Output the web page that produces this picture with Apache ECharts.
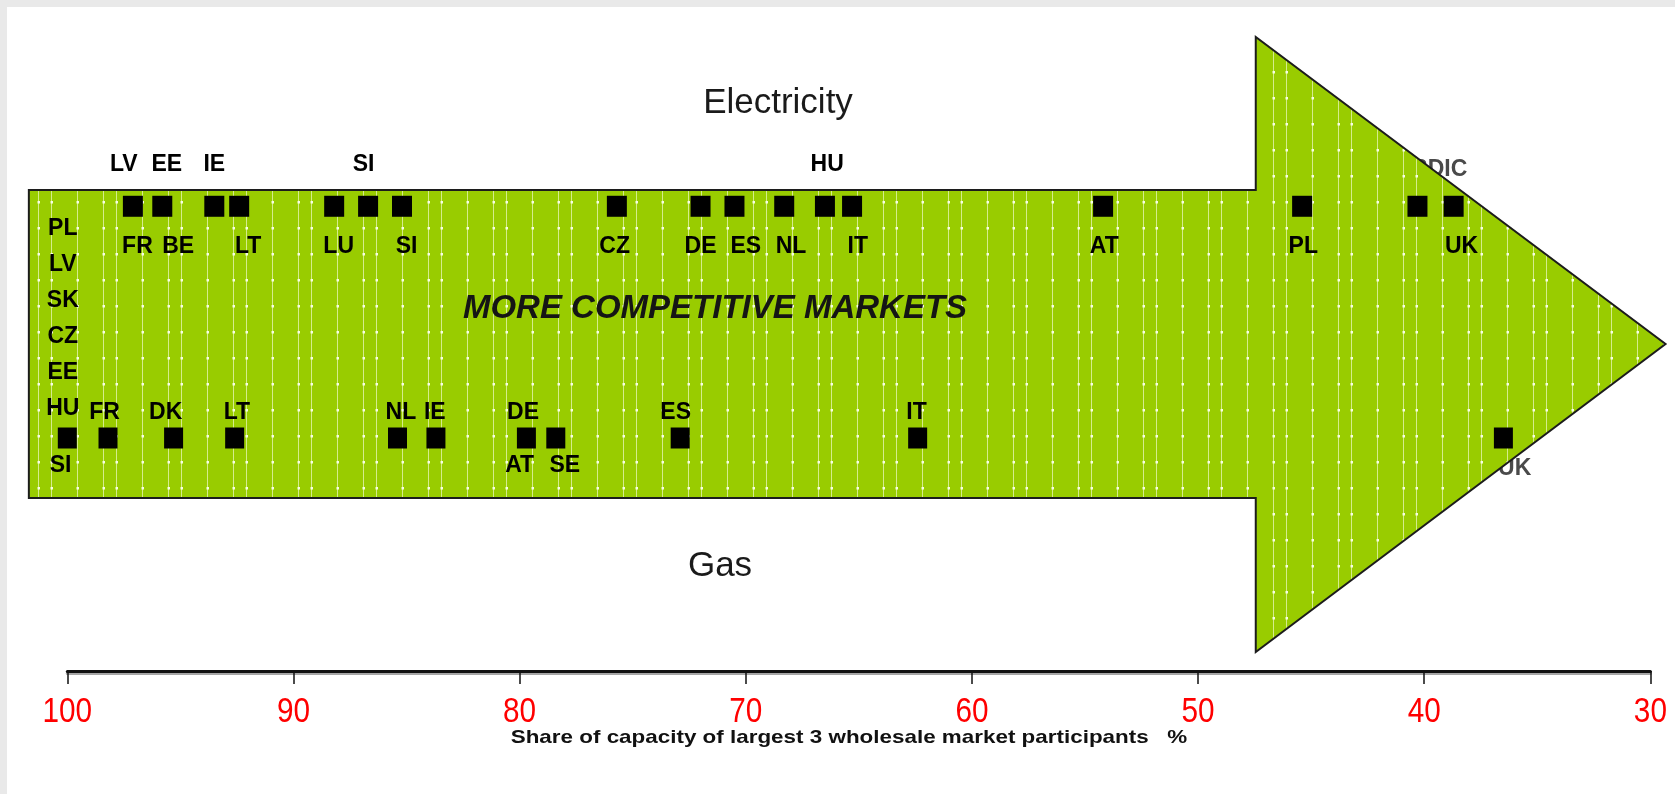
<!DOCTYPE html>
<html>
<head>
<meta charset="UTF-8">
<title>Electricity and gas market concentration</title>
<script src="https://cdn.jsdelivr.net/npm/echarts@6/dist/echarts.min.js"></script>
<style>
  html, body { margin: 0; padding: 0; background: #e9e9e9; }
  #main { position: absolute; left: 7px; top: 7px; width: 1668px; height: 787px; background: #fff; }
</style>
</head>
<body>
<div id="main"></div>
<script type="text/javascript">
// share of capacity of largest 3 wholesale participants (%)
var elecMarkers = [97.1, 95.8, 93.5, 92.4, 88.2, 86.7, 85.2, 75.7, 72.0, 70.5, 68.3, 66.5, 65.3, 54.2, 45.4, 40.3, 38.7];
var gasMarkers  = [100, 98.2, 95.3, 92.6, 85.4, 83.7, 79.7, 78.4, 72.9, 62.4, 36.5];

// labels and where they sit along the axis
var elecTopNames = ['LV', 'EE', 'IE', 'SI', 'HU'];
var elecTopAt    = [97.5, 95.6, 93.5, 86.9, 66.4];
var elecBottomNames = ['FR', 'BE', 'LT', 'LU', 'SI', 'CZ', 'DE', 'ES', 'NL', 'IT', 'AT', 'PL', 'UK'];
var elecBottomAt    = [96.9, 95.1, 92.0, 88.0, 85.0, 75.8, 72.0, 70.0, 68.0, 65.05, 54.15, 45.35, 38.35];
var elecHiddenNames = ['NORDIC'];
var elecHiddenAt    = [40.1];

var gasTopNames = ['FR', 'DK', 'LT', 'NL', 'IE', 'DE', 'ES', 'IT'];
var gasTopAt    = [98.35, 95.65, 92.5, 85.25, 83.75, 79.85, 73.1, 62.45];
var gasBottomNames = ['SI', 'AT', 'SE'];
var gasBottomAt    = [100.3, 80.0, 78.0];
var gasStackNames  = ['PL', 'LV', 'SK', 'CZ', 'EE', 'HU']; // all at 100
var gasStackAt     = 100.2;
var gasHiddenNames = ['UK'];
var gasHiddenAt    = [36.0];

var xTicks = [100, 90, 80, 70, 60, 50, 40, 30];

// rows on the hidden y scale (0..100)
var ELEC_Y = 73.3, GAS_Y = 36.75;
var LABEL_FONT = '"Liberation Sans", Arial, sans-serif';

// texture of the arrow: faint vertical lines with bright dots
var pc = document.createElement('canvas');
pc.width = 65; pc.height = 26;
var pctx = pc.getContext('2d');
pctx.fillStyle = '#99cc00';
pctx.fillRect(0, 0, 65, 26);
[5.5, 31.5, 44.5].forEach(function (x) {
    pctx.fillStyle = 'rgba(228,244,175,0.8)';
    pctx.fillRect(x - 0.5, 0, 1, 26);
    pctx.fillStyle = 'rgba(250,255,235,0.95)';
    pctx.fillRect(x - 1, 12, 2.5, 2.5);
});

// arrow outline in axis units
var arrowShape = [[101.7, 75.87], [47.45, 75.87], [47.45, 100], [29.33, 51.58],
                  [47.45, 3.0], [47.45, 27.29], [101.7, 27.29]];

function labelSeries(names, at, rowY, dy, color, z) {
    return {
        type: 'scatter',
        z: z,
        clip: false,
        symbolSize: 1,
        itemStyle: { color: 'rgba(0,0,0,0)', opacity: 1 },
        silent: true,
        data: names.map(function (n, i) { return { name: n, value: [at[i], rowY] }; }),
        label: {
            show: true,
            position: 'inside',
            offset: [0, dy],
            formatter: '{b}',
            fontFamily: LABEL_FONT,
            fontWeight: 'bold',
            fontSize: 23,
            color: color
        }
    };
}

var myChart = echarts.init(document.getElementById('main'));

var stackSeries = labelSeries(gasStackNames, gasStackNames.map(function () { return gasStackAt; }), GAS_Y, 0, '#000', 5);
stackSeries.data.forEach(function (d, i) {
    d.label = { offset: [0, -29 - (gasStackNames.length - 1 - i) * 36] };
});

var option = {
    animation: false,
    grid: { left: 60.3, right: 24.6, top: 30, bottom: 123 },
    xAxis: {
        type: 'value',
        inverse: true,
        min: 30,
        max: 100,
        interval: 10,
        splitLine: { show: false },
        axisLine: { show: true, lineStyle: { color: '#111', width: 3, shadowColor: 'rgba(0,0,0,0.35)', shadowOffsetY: 2 } },
        axisTick: { show: true, length: 13, lineStyle: { color: '#111', width: 1.5 } },
        axisLabel: { show: false }
    },
    yAxis: { type: 'value', min: 0, max: 100, show: false },
    graphic: [
        { type: 'text', x: 771, y: 96, style: { text: 'Electricity', font: '35px "Liberation Sans", Arial, sans-serif', fill: '#1a1a1a', align: 'center', verticalAlign: 'middle' } },
        { type: 'text', x: 713, y: 559, style: { text: 'Gas', font: '35px "Liberation Sans", Arial, sans-serif', fill: '#1a1a1a', align: 'center', verticalAlign: 'middle' } },
        { type: 'text', x: 842, y: 731, scaleX: 1.18, style: { text: 'Share of capacity of largest 3 wholesale market participants   %', font: 'bold 19px "Liberation Sans", Arial, sans-serif', fill: '#111', align: 'center', verticalAlign: 'middle' } }
    ],
    series: [
        // grey labels that the arrow covers
        labelSeries(elecHiddenNames, elecHiddenAt, ELEC_Y, -37, '#4a4a4a', 0),
        labelSeries(gasHiddenNames, gasHiddenAt, GAS_Y, 31, '#4a4a4a', 0),
        {
            type: 'custom',
            z: 1,
            silent: true,
            clip: false,
            data: [[0]],
            renderItem: function (params, api) {
                var pts = arrowShape.map(function (p) { return api.coord(p); });
                return {
                    type: 'group',
                    children: [
                        { type: 'polygon', shape: { points: pts }, style: { fill: { image: pc, repeat: 'repeat' }, stroke: '#1c1c1c', lineWidth: 2 } },
                        { type: 'text', x: 708, y: 302, style: { text: 'MORE COMPETITIVE MARKETS', font: 'italic bold 33px "Liberation Sans", Arial, sans-serif', fill: '#151515', align: 'center', verticalAlign: 'middle' } }
                    ]
                };
            }
        },
        // tick labels: narrow red digits under each tick
        {
            type: 'custom',
            z: 3,
            silent: true,
            clip: false,
            data: xTicks.map(function (v) { return [v]; }),
            renderItem: function (params, api) {
                var p = api.coord([api.value(0), 0]);
                return {
                    type: 'text', x: p[0], y: p[1] + 41, scaleX: 0.85,
                    style: { text: String(api.value(0)), font: '35px "Liberation Sans", Arial, sans-serif', fill: '#ff0000', align: 'center', verticalAlign: 'middle' }
                };
            }
        },
        {
            type: 'scatter', z: 4, symbol: 'rect', symbolSize: [20, 21],
            itemStyle: { color: '#000', opacity: 1 }, silent: true,
            data: elecMarkers.map(function (v) { return [v, ELEC_Y]; })
        },
        {
            type: 'scatter', z: 4, symbol: 'rect', symbolSize: [19, 21], clip: false,
            itemStyle: { color: '#000', opacity: 1 }, silent: true,
            data: gasMarkers.map(function (v) { return [v, GAS_Y]; })
        },
        labelSeries(elecTopNames, elecTopAt, ELEC_Y, -42, '#000', 5),
        labelSeries(elecBottomNames, elecBottomAt, ELEC_Y, 40, '#000', 5),
        labelSeries(gasTopNames, gasTopAt, GAS_Y, -25, '#000', 5),
        labelSeries(gasBottomNames, gasBottomAt, GAS_Y, 28, '#000', 5),
        stackSeries
    ]
};
myChart.setOption(option);
</script>
</body>
</html>
